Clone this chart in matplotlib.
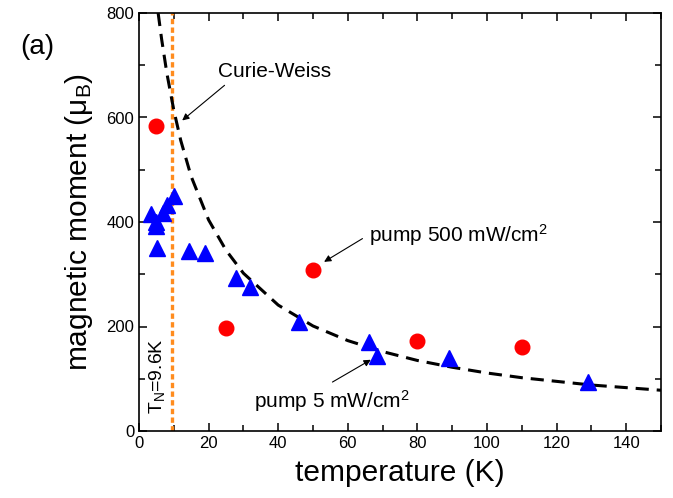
import matplotlib
matplotlib.use('Agg')
import matplotlib.pyplot as plt
from matplotlib.ticker import MultipleLocator

plt.rcParams['font.family'] = ['Liberation Sans', 'DejaVu Sans']
plt.rcParams['mathtext.fontset'] = 'custom'
plt.rcParams['mathtext.rm'] = 'Liberation Sans'
plt.rcParams['mathtext.it'] = 'Liberation Sans:italic'

# pump 500 mW/cm2 (red circles)
T_high = [5, 25, 50, 80, 110]
m_high = [583, 197, 309, 173, 160]

# pump 5 mW/cm2 (blue triangles)
T_low = [3.5, 5, 5, 5.3, 7, 8, 10, 14.5, 19, 28, 32, 46, 66, 68.5, 89, 129]
m_low = [415, 400, 393, 350, 418, 432, 450, 345, 340, 292, 276, 208, 170, 143, 139, 93]

# Curie-Weiss curve
T_cw = [5.5, 6.5, 8, 10, 12, 15, 20, 25, 30, 40, 50, 60, 70, 80, 90, 100,
        110, 120, 130, 140, 150]
m_cw = [800, 750, 685, 614, 556, 487, 404, 346, 302, 241, 201, 173, 152,
        135, 122, 111, 102, 95, 88, 83, 78]

T_N = 9.6

fig = plt.figure(figsize=(6.73, 4.98), dpi=100)
ax = fig.add_axes([139/673, 1-431/498, (661-139)/673, (431-13)/498])

ax.axvline(T_N, color='#ff8c1e', lw=2.4, dashes=(1.6, 1.0))
ax.plot(T_cw, m_cw, color='black', lw=2.2, dashes=(4.3, 2.6))
ax.plot(T_high, m_high, 'o', color='#ff0000', ms=10.5, mec='#ff0000', zorder=5)
ax.plot(T_low, m_low, '^', color='#0000ff', ms=11, mec='#0000ff', zorder=5)

ax.set_xlim(0, 150)
ax.set_ylim(0, 800)
ax.xaxis.set_major_locator(MultipleLocator(20))
ax.xaxis.set_minor_locator(MultipleLocator(10))
ax.yaxis.set_major_locator(MultipleLocator(200))
ax.yaxis.set_minor_locator(MultipleLocator(100))
ax.tick_params(which='both', direction='in', top=True, right=True, labelsize=12, width=1.1)
ax.tick_params(which='major', length=6)
ax.tick_params(which='minor', length=4)
for s in ax.spines.values():
    s.set_linewidth(1.2)

ax.set_xlabel('temperature (K)', fontsize=21.5, labelpad=6)
ax.set_ylabel('magnetic moment (μ$_\\mathrm{B}$)', fontsize=21.5, labelpad=8)

arr = dict(arrowstyle='-|>', color='black', lw=0.8, mutation_scale=10)
ax.text(22.7, 688, 'Curie-Weiss', fontsize=15, ha='left', va='center')
ax.annotate('', xy=(11.8, 591), xytext=(25.2, 665), arrowprops=arr)
ax.text(66, 375, 'pump 500 mW/cm$^2$', fontsize=15, ha='left', va='center')
ax.annotate('', xy=(52.5, 321), xytext=(64.9, 371), arrowprops=arr)
ax.text(33, 57, 'pump 5 mW/cm$^2$', fontsize=15, ha='left', va='center')
ax.annotate('', xy=(67.3, 139), xytext=(54.9, 91), arrowprops=arr)
ax.text(5.2, 105, 'T$_\\mathrm{N}$=9.6K', fontsize=14, rotation=90,
        ha='center', va='center')
fig.text(37/673, 1-47/498, '(a)', fontsize=20, ha='center', va='center')

fig.savefig('out.png', dpi=100)
